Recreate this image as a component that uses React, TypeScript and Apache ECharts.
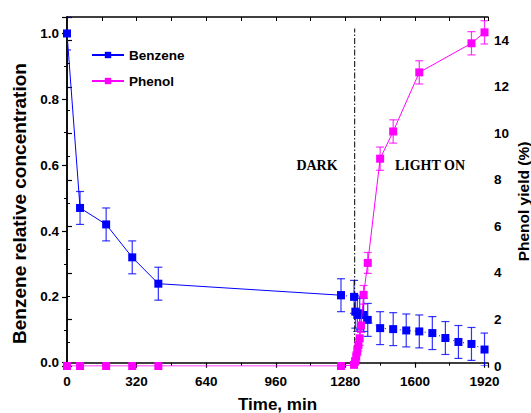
import React, { useEffect, useRef } from 'react';
import * as echarts from 'echarts';

// Benzene relative concentration (left axis)
const benzeneDarkTime = [0, 60, 180, 300, 420, 1260];
const benzeneDarkConc = [1.0, 0.47, 0.42, 0.32, 0.24, 0.205];
const benzeneLightTime = [1260, 1320, 1326, 1335, 1346, 1364, 1383, 1440, 1500, 1560, 1620, 1680, 1740, 1800, 1860, 1920];
const benzeneLightConc = [0.205, 0.2, 0.155, 0.145, 0.15, 0.145, 0.13, 0.105, 0.102, 0.098, 0.095, 0.09, 0.075, 0.063, 0.057, 0.04];
const benzeneErr = 0.05;

// Phenol yield % (right axis)
const phenolTime = [0, 60, 180, 300, 420, 1260, 1320, 1325, 1330, 1335, 1340, 1346, 1352, 1364, 1383, 1440, 1500, 1620, 1860, 1920];
const phenolYield = [0, 0, 0, 0, 0, 0, 0.05, 0.2, 0.4, 0.65, 0.9, 1.19, 1.74, 3.06, 4.43, 8.91, 10.08, 12.62, 13.87, 14.34];
const phenolErr = [0, 0, 0, 0, 0, 0, 0.1, 0.15, 0.2, 0.2, 0.25, 0.3, 0.3, 0.4, 0.45, 0.5, 0.5, 0.5, 0.5, 0.5];

const xTicks = [0, 320, 640, 960, 1280, 1600, 1920];
const leftTicks = [0, 0.2, 0.4, 0.6, 0.8, 1.0];
const rightTicks = [0, 2, 4, 6, 8, 10, 12, 14];
const lightSwitchTime = 1323;

const BLUE = '#0000FF';
const MAGENTA = '#FF00FF';
const FONT = 'Liberation Sans, Arial, sans-serif';

function errorSeries(data: number[][], color: string, yAxisIndex: number) {
  return {
    type: 'custom',
    xAxisIndex: 0,
    yAxisIndex,
    z: 1,
    silent: true,
    clip: true,
    encode: { x: 0, y: 1 },
    data,
    renderItem: (params: any, api: any) => {
      const x = api.value(0);
      const y = api.value(1);
      const e = api.value(2);
      if (!e) return null;
      const top = api.coord([x, y + e]);
      const bot = api.coord([x, y - e]);
      const w = 4;
      const style = { stroke: color, lineWidth: 1.2, opacity: 0.8 };
      return {
        type: 'group',
        children: [
          { type: 'line', shape: { x1: top[0], y1: top[1], x2: bot[0], y2: bot[1] }, style },
          { type: 'line', shape: { x1: top[0] - w, y1: top[1], x2: top[0] + w, y2: top[1] }, style },
          { type: 'line', shape: { x1: bot[0] - w, y1: bot[1], x2: bot[0] + w, y2: bot[1] }, style },
        ],
      };
    },
  };
}

export default function App() {
  const ref = useRef<HTMLDivElement>(null);
  useEffect(() => {
    if (!ref.current) return;
    const chart = echarts.init(ref.current, undefined, { renderer: 'svg' });
    const axisLabelStyle = { color: '#000', fontFamily: FONT, fontWeight: 'bold', fontSize: 13.5 };
    const benzeneDark = benzeneDarkTime.map((t, i) => [t, benzeneDarkConc[i]]);
    const benzeneLight = benzeneLightTime.map((t, i) => [t, benzeneLightConc[i]]);
    const phenol = phenolTime.map((t, i) => [t, phenolYield[i]]);
    const benzeneErrData = [
      ...benzeneDarkTime.map((t, i) => [t, benzeneDarkConc[i], benzeneErr]),
      ...benzeneLightTime.slice(1).map((t, i) => [t, benzeneLightConc[i + 1], benzeneErr]),
    ];
    const phenolErrData = phenolTime.map((t, i) => [t, phenolYield[i], phenolErr[i]]);

    chart.setOption({
      animation: false,
      backgroundColor: '#fff',
      grid: { left: 67, right: 43, top: 17, bottom: 47, outerBoundsMode: 'none', containLabel: false },
      legend: {
        data: ['Benzene', 'Phenol'],
        orient: 'vertical',
        left: 86,
        top: 43,
        itemGap: 12,
        itemWidth: 32,
        itemHeight: 8,
        textStyle: { color: '#000', fontFamily: FONT, fontWeight: 'bold', fontSize: 13.5 },
      },
      xAxis: [
        {
          type: 'value',
          min: 0,
          max: 1936,
          interval: 320,
          name: 'Time, min',
          nameLocation: 'middle',
          nameGap: 30,
          nameTextStyle: { color: '#000', fontFamily: FONT, fontWeight: 'bold', fontSize: 17 },
          axisLine: { lineStyle: { color: '#000', width: 1.5 } },
          axisTick: { show: true, inside: false, length: 5, lineStyle: { color: '#000', width: 1.2 } },
          minorTick: { show: true, splitNumber: 2, length: 3, lineStyle: { color: '#000', width: 1 } },
          axisLabel: {
            ...axisLabelStyle,
            margin: 8,
            formatter: (v: number) => (xTicks.includes(v) ? String(v) : ''),
          },
          splitLine: { show: false },
        },
        {
          type: 'value',
          position: 'top',
          show: true,
          min: 0,
          max: 1936,
          interval: 160,
          axisLine: { show: true, onZero: false, lineStyle: { color: '#000', width: 1.5 } },
          axisTick: { show: true, inside: true, length: 4, lineStyle: { color: '#000', width: 1 } },
          axisLabel: { show: false },
          splitLine: { show: false },
        },
      ],
      yAxis: [
        {
          type: 'value',
          min: -0.01,
          max: 1.05,
          splitNumber: 5,
          name: 'Benzene relative concentration',
          nameLocation: 'middle',
          nameGap: 38,
          nameTextStyle: { color: '#000', fontFamily: FONT, fontWeight: 'bold', fontSize: 19, padding: [0, 24, 0, 0] },
          axisLine: { show: true, lineStyle: { color: '#000', width: 1.5 } },
          axisTick: { show: true, inside: false, length: 5, lineStyle: { color: '#000', width: 1.2 } },
          minorTick: { show: true, splitNumber: 2, length: 3, lineStyle: { color: '#000', width: 1 } },
          axisLabel: {
            ...axisLabelStyle,
            margin: 8,
            formatter: (v: number) => {
              const hit = leftTicks.find((t) => Math.abs(t - v) < 1e-6);
              return hit === undefined ? '' : hit.toFixed(1);
            },
          },
          splitLine: { show: false },
        },
        {
          type: 'value',
          min: 0,
          max: 15,
          interval: 2,
          position: 'right',
          name: 'Phenol yield (%)',
          nameLocation: 'middle',
          nameGap: 27,
          nameMoveOverlap: false,
          nameTextStyle: { color: '#000', fontFamily: FONT, fontWeight: 'bold', fontSize: 15.5, padding: [0, 20, 0, 0] },
          axisLine: { show: true, lineStyle: { color: '#000', width: 1.5 } },
          axisTick: { show: true, inside: false, length: 5, lineStyle: { color: '#000', width: 1.2 } },
          minorTick: { show: true, splitNumber: 2, length: 3, lineStyle: { color: '#000', width: 1 } },
          axisLabel: {
            ...axisLabelStyle,
            margin: 6,
            formatter: (v: number) => (rightTicks.includes(v) ? String(v) : ''),
          },
          splitLine: { show: false },
        },
      ],
      series: [
        errorSeries(benzeneErrData, BLUE, 0),
        errorSeries(phenolErrData, MAGENTA, 1),
        {
          name: 'Benzene',
          type: 'line',
          xAxisIndex: 0,
          yAxisIndex: 0,
          data: benzeneDark,
          symbol: 'rect',
          symbolSize: 8,
          z: 3,
          itemStyle: { color: BLUE },
          lineStyle: { color: BLUE, width: 1 },
        },
        {
          name: 'Benzene light',
          type: 'line',
          xAxisIndex: 0,
          yAxisIndex: 0,
          data: benzeneLight,
          symbol: 'rect',
          symbolSize: 8,
          z: 3,
          itemStyle: { color: BLUE },
          lineStyle: { color: BLUE, width: 1, type: [1, 4] },
        },
        {
          name: 'Phenol',
          type: 'line',
          xAxisIndex: 0,
          yAxisIndex: 1,
          data: phenol,
          symbol: 'rect',
          symbolSize: 8,
          z: 4,
          itemStyle: { color: MAGENTA },
          lineStyle: { color: MAGENTA, width: 1 },
        },
        {
          name: 'switch',
          type: 'line',
          xAxisIndex: 0,
          yAxisIndex: 0,
          data: [[lightSwitchTime, -0.01], [lightSwitchTime, 1.015]],
          symbol: 'none',
          silent: true,
          z: 2,
          lineStyle: { color: '#000', width: 1, type: [6, 2, 1.5, 2] },
        },
      ],
      graphic: [
        {
          type: 'text',
          x: 317,
          y: 165,
          style: {
            text: 'DARK',
            fill: '#000',
            font: 'bold 14px "Liberation Serif", "Times New Roman", serif',
            align: 'center',
            verticalAlign: 'middle',
          },
        },
        {
          type: 'text',
          x: 430,
          y: 165,
          style: {
            text: 'LIGHT ON',
            fill: '#000',
            font: 'bold 14px "Liberation Serif", "Times New Roman", serif',
            align: 'center',
            verticalAlign: 'middle',
          },
        },
      ],
    });
    return () => chart.dispose();
  }, []);
  return (
    <div
      ref={ref}
      style={{ position: 'fixed', left: 0, top: 0, width: 531, height: 413, background: '#fff' }}
    />
  );
}
